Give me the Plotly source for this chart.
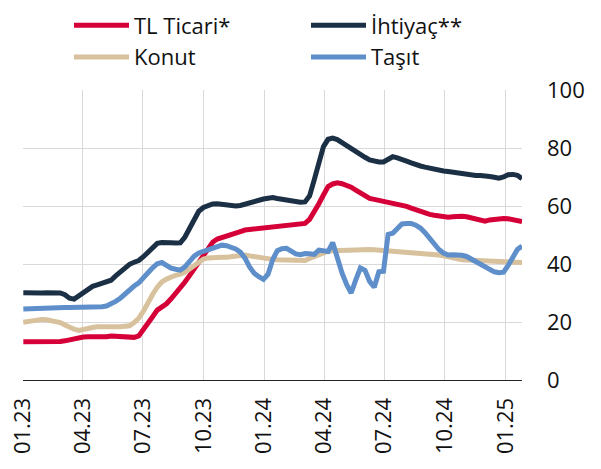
import pandas as pd
import plotly.graph_objects as go

start_date = "2023-01-01"
n_weeks = 109
dates = pd.date_range(start_date, periods=n_weeks, freq="7D")

tl_ticari = [13.2, 13.2, 13.1, 13.1, 13.0, 13.0, 12.9, 13.1, 13.3, 13.5,
             13.9, 14.2, 14.5, 14.8, 14.9, 14.8, 14.7, 14.7, 14.9, 15.2,
             15.1, 14.9, 14.7, 14.5, 14.7, 15.2, 17.2, 19.5, 21.8, 24.1,
             25.2, 26.3, 28.0, 29.8, 31.7, 33.8, 36.0, 38.3, 41.0, 43.6,
             45.8, 47.5, 48.6, 49.2, 49.8, 50.4, 50.8, 51.2, 51.7, 51.9,
             52.1, 52.4, 52.6, 52.8, 53.0, 53.2, 53.4, 53.5, 53.6, 53.7,
             53.9, 54.0, 55.4, 57.8, 60.8, 63.8, 66.7, 67.6, 68.0, 67.7,
             67.3, 66.5, 65.5, 64.4, 63.5, 62.6, 62.3, 62.0, 61.7, 61.4,
             61.1, 60.9, 60.4, 59.9, 59.3, 58.7, 58.0, 57.5, 57.1, 56.8,
             56.5, 56.3, 56.1, 56.3, 56.5, 56.5, 56.3, 55.9, 55.3, 54.8,
             54.8, 55.2, 55.5, 55.6, 55.7, 55.6, 55.4, 55.0, 54.6]

ihtiyac = [30.1, 30.0, 29.9, 30.0, 30.0, 30.1, 30.2, 30.3, 30.0, 29.4,
           28.2, 27.9, 29.0, 30.6, 31.7, 32.3, 32.8, 33.2, 33.6, 34.4,
           35.9, 37.4, 38.7, 39.9, 40.6, 41.2, 42.5, 44.0, 45.6, 47.1,
           47.4, 47.5, 47.3, 47.2, 47.3, 49.3, 52.3, 55.5, 58.2, 59.5,
           60.2, 60.7, 60.8, 60.5, 60.2, 60.1, 60.0, 60.2, 60.7, 61.1,
           61.6, 62.0, 62.4, 62.7, 62.9, 62.6, 62.3, 62.0, 61.6, 61.3,
           61.3, 61.4, 63.5, 69.0, 75.5, 80.5, 83.0, 83.4, 82.9, 81.8,
           80.8, 79.8, 78.8, 77.9, 76.8, 75.9, 75.5, 75.2, 75.2, 76.2,
           77.0, 76.6, 76.2, 75.5, 74.9, 74.2, 73.8, 73.4, 73.0, 72.7,
           72.4, 72.1, 71.9, 71.6, 71.4, 71.1, 70.9, 70.6, 70.5, 70.5,
           70.5, 70.2, 69.9, 69.6, 70.0, 70.8, 70.9, 70.6, 69.4]

konut = [19.9, 20.2, 20.5, 20.8, 20.9, 20.8, 20.6, 20.3, 19.8, 19.0,
         18.2, 17.5, 17.1, 17.3, 17.7, 18.1, 18.4, 18.5, 18.5, 18.5,
         18.4, 18.4, 18.5, 18.7, 19.8, 21.3, 23.7, 26.8, 29.5, 32.0,
         33.8, 34.8, 35.6, 36.1, 36.5, 37.1, 38.3, 39.4, 40.6, 41.7,
         42.1, 42.3, 42.4, 42.3, 42.3, 42.5, 42.8, 43.0, 43.1, 42.8,
         42.5, 42.2, 41.9, 41.7, 41.6, 41.5, 41.4, 41.3, 41.2, 41.1,
         41.0, 41.2, 41.9, 42.6, 43.3, 44.0, 44.4, 44.6, 44.7, 44.8,
         44.8, 44.8, 44.9, 45.0, 45.0, 45.0, 44.9, 44.8, 44.6, 44.4,
         44.2, 44.0, 43.9, 43.8, 43.7, 43.6, 43.5, 43.4, 43.3, 43.2,
         43.1, 42.8, 42.4, 42.0, 41.7, 41.5, 41.4, 41.3, 41.2, 41.1,
         41.0, 40.9, 40.8, 40.8, 40.7, 40.7, 40.6, 40.5, 40.5]

tasit = [24.5, 24.6, 24.7, 24.8, 24.9, 25.0, 25.1, 25.1, 25.1, 25.0,
         25.0, 25.0, 25.0, 25.0, 25.0, 25.1, 25.2, 25.3, 25.5, 26.1,
         27.1, 28.2, 29.7, 31.2, 32.4, 33.5, 35.0, 37.0, 38.7, 40.1,
         40.5, 39.4, 38.6, 38.2, 37.9, 39.0, 41.2, 42.7, 43.8, 44.4,
         44.7, 45.5, 46.3, 46.5, 46.3, 45.9, 45.2, 44.1, 42.0, 39.0,
         36.8, 35.6, 34.7, 36.5, 41.5, 44.6, 45.3, 45.4, 44.6, 43.5,
         43.2, 43.6, 43.5, 43.3, 44.8, 44.5, 44.3, 47.4, 41.6, 37.0,
         33.0, 30.0, 34.5, 38.6, 37.8, 34.0, 32.0, 37.3, 37.5, 50.2,
         50.6, 52.5, 53.8, 54.0, 54.0, 53.4, 52.4, 50.8, 48.9, 46.8,
         45.0, 43.8, 43.1, 43.2, 43.3, 43.0, 42.6, 41.7, 40.6, 39.6,
         38.7, 37.9, 37.3, 37.0, 37.2, 39.5, 42.5, 45.0, 46.2]

series_names = ["TL Ticari*", "İhtiyaç**", "Konut", "Taşıt"]
series_values = [tl_ticari, ihtiyac, konut, tasit]
series_colors = ["#D50037", "#1B2F45", "#D8C19D", "#5E8FCB"]

y_ticks = [0, 20, 40, 60, 80, 100]

FONT = "Open Sans, Noto Sans, sans-serif"

fig = go.Figure()
for name, vals, col in zip(series_names, series_values, series_colors):
    fig.add_trace(go.Scatter(x=dates, y=vals, name=name, mode="lines",
                             line=dict(color=col, width=5)))

fig.update_layout(
    width=601, height=469,
    margin=dict(l=23, r=79, t=90, b=89, autoexpand=False),
    paper_bgcolor="white", plot_bgcolor="white",
    font=dict(family=FONT, size=22, color="#111111"),
    showlegend=True,
    legend=dict(orientation="h", xref="paper", yref="paper",
                x=(69 - 23) / 499, xanchor="left",
                y=(290 + 85.5) / 290, yanchor="top",
                font=dict(size=22, family=FONT, color="#111111"),
                itemwidth=55, entrywidth=167, entrywidthmode="pixels",
                traceorder="normal", bgcolor="rgba(0,0,0,0)"),
    xaxis=dict(type="date", range=["2022-12-31 12:00", "2025-01-26"],
               tick0="2023-01-01", dtick="M3", tickformat="%m.%y",
               tickangle=-90, showgrid=True, gridcolor="#D9D9D9", gridwidth=1,
               showline=True, linecolor="#222222", linewidth=1.3,
               ticks="", ticklabelstandoff=8, automargin=False,
               ticklabeloverflow="allow",
               tickfont=dict(size=22, family=FONT, color="#111111"),
               zeroline=False),
    yaxis=dict(side="right", range=[0, 100], tickvals=y_ticks,
               showgrid=True, gridcolor="#D9D9D9", gridwidth=1,
               zeroline=False, showline=False, ticks="",
               ticklabelstandoff=24, automargin=False,
               ticklabeloverflow="allow",
               tickfont=dict(size=22, family=FONT, color="#111111")),
)

fig.write_html("out.html",
               config={"displayModeBar": False},
               post_script="document.body.style.margin='0';"
                           "document.body.style.padding='0';")
